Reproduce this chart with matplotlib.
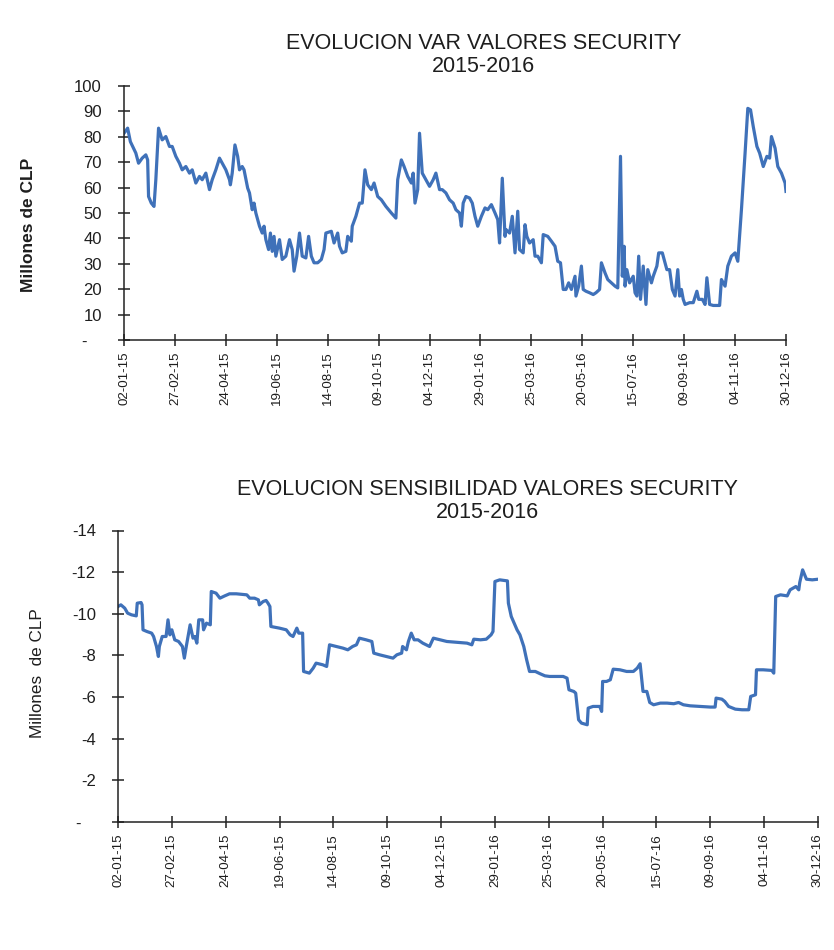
import matplotlib
matplotlib.use("Agg")
import matplotlib.pyplot as plt
import matplotlib.dates as mdates
import pandas as pd
import numpy as np

plt.rcParams['font.family'] = ['Liberation Sans', 'DejaVu Sans']

start = pd.Timestamp('2015-01-02')
end = pd.Timestamp('2016-12-30')

# ---- VaR series (days from 02-01-15, millones de CLP) ----
var_days = [0, 4, 7, 13, 16, 20, 24, 26, 27, 30, 33, 35, 38, 42, 46, 50, 53, 57, 61, 64, 68, 72, 75,
            79, 83, 86, 90, 94, 97, 101, 105, 108, 112, 116, 117, 119, 122, 125, 127, 130, 132, 136,
            138, 141, 143, 145, 149, 152, 154, 156, 159, 161, 163, 165, 167, 171, 174, 178, 182, 185,
            187, 190, 193, 196, 200, 203, 206, 209, 213, 217, 220, 222, 228, 231, 235, 237, 240, 244,
            246, 250, 251, 255, 259, 262, 265, 268, 272, 275, 279, 283, 288, 294, 299, 301, 305, 308,
            312, 316, 318, 320, 323, 325, 328, 332, 336, 340, 343, 347, 350, 354, 358, 362, 365, 369,
            371, 373, 376, 380, 383, 386, 389, 393, 397, 400, 404, 408, 411, 413, 416, 419, 420, 424,
            427, 430, 433, 435, 439, 441, 443, 446, 450, 452, 455, 459, 461, 466, 470, 474, 477, 480,
            483, 486, 489, 492, 496, 497, 500, 503, 505, 508, 512, 516, 519, 523, 525, 529, 532, 536,
            540, 543, 546, 548, 550, 551, 553, 556, 560, 562, 564, 566, 568, 571, 574, 576, 580, 582,
            586, 588, 592, 595, 597, 600, 603, 606, 609, 611, 613, 615, 617, 622, 626, 630, 632, 636,
            639, 641, 644, 648, 655, 657, 661, 664, 668, 672, 675, 679, 683, 686, 689, 692, 696, 699,
            703, 707, 710, 712, 716, 719, 723, 727, 728]
var_vals = [81.4, 83.4, 78.1, 73.6, 69.6, 71.6, 72.9, 70.9, 56.5, 53.9, 52.6, 63.1, 83.4, 78.8, 80.1,
            76.2, 76.2, 72.3, 69.6, 67.0, 68.3, 65.7, 67.0, 61.8, 64.4, 63.1, 65.7, 59.2, 63.1, 67.0,
            71.6, 69.6, 67.0, 63.1, 61.1, 65.7, 76.8, 72.3, 67.0, 68.3, 67.0, 59.8, 57.9, 51.3, 53.9,
            50.0, 44.8, 42.1, 44.8, 39.5, 35.6, 42.1, 34.9, 40.8, 33.0, 39.5, 31.7, 33.0, 39.5, 35.6,
            27.1, 33.0, 42.1, 33.0, 32.3, 40.8, 33.0, 30.4, 30.4, 31.7, 35.6, 42.1, 42.8, 38.2, 42.1,
            36.9, 34.3, 34.9, 40.8, 38.9, 44.8, 48.7, 53.9, 53.9, 67.0, 61.1, 59.2, 61.8, 56.5, 55.2,
            52.6, 50.0, 48.0, 63.1, 70.9, 68.3, 64.4, 61.8, 65.7, 53.9, 59.2, 81.4, 65.7, 63.1, 60.5,
            63.1, 65.7, 59.2, 59.2, 57.9, 55.2, 53.9, 51.3, 50.0, 44.8, 53.9, 56.5, 55.9, 53.9, 48.7,
            44.8, 48.7, 52.0, 51.3, 53.3, 50.0, 47.4, 38.2, 63.7, 40.8, 43.5, 42.1, 48.7, 34.3, 50.7,
            35.6, 34.3, 45.4, 40.8, 38.2, 39.5, 33.0, 33.0, 30.4, 41.5, 40.8, 38.9, 36.9, 31.0, 30.4,
            19.9, 19.9, 22.5, 19.9, 25.1, 17.3, 21.2, 29.1, 19.9, 19.2, 18.6, 17.9, 18.6, 19.9, 30.4,
            26.4, 23.8, 22.5, 21.2, 20.5, 72.3, 25.1, 36.9, 21.2, 27.7, 22.5, 25.1, 18.6, 17.3, 33.0,
            16.0, 29.1, 14.0, 27.7, 22.5, 25.1, 29.1, 34.3, 34.3, 30.4, 27.7, 27.7, 19.9, 17.3, 27.7,
            17.3, 19.9, 16.0, 14.0, 14.7, 14.7, 19.2, 16.0, 16.0, 14.0, 24.5, 14.0, 13.6, 13.6, 23.8,
            21.2, 29.1, 33.0, 34.3, 31.0, 51.3, 73.6, 91.2, 90.6, 84.0, 76.2, 73.6, 68.3, 72.3, 71.6,
            80.1, 75.5, 68.3, 65.7, 61.8, 58.5]

# ---- Sensibilidad series (days from 02-01-15, millones de CLP) ----
sens_days = [0, 3, 7, 10, 14, 19, 20, 24, 25, 26, 30, 35, 37, 40, 42, 43, 46, 50, 52, 54, 56, 59, 63,
             67, 69, 71, 75, 78, 80, 82, 84, 88, 89, 92, 96, 97, 102, 106, 111, 116, 123, 134, 137,
             142, 146, 147, 151, 154, 156, 158, 159, 168, 175, 179, 182, 186, 188, 192, 193, 199, 203,
             206, 213, 217, 220, 227, 234, 239, 244, 248, 251, 258, 264, 266, 272, 279, 286, 290, 295,
             296, 300, 302, 305, 308, 312, 317, 324, 328, 335, 342, 356, 363, 368, 370, 377, 383, 388,
             390, 392, 397, 405, 406, 409, 415, 418, 422, 425, 428, 434, 439, 444, 449, 463, 467, 469,
             474, 476, 479, 482, 488, 489, 494, 501, 503, 504, 508, 512, 515, 522, 529, 536, 540, 543,
             546, 550, 553, 557, 564, 571, 578, 583, 588, 595, 605, 616, 621, 622, 628, 631, 635, 642,
             649, 656, 658, 663, 664, 671, 680, 682, 684, 689, 696, 699, 702, 705, 708, 709, 712, 716,
             722, 728]
sens_vals = [-10.35, -10.43, -10.27, -10.03, -9.95, -9.90, -10.51, -10.54, -10.43, -9.23, -9.15, -9.07,
             -8.91, -8.43, -7.95, -8.43, -8.91, -8.91, -9.71, -8.99, -9.23, -8.75, -8.67, -8.43, -7.87,
             -8.43, -9.47, -8.83, -8.91, -8.59, -9.71, -9.71, -9.23, -9.55, -9.47, -11.07, -10.99,
             -10.75, -10.86, -10.96, -10.96, -10.91, -10.75, -10.75, -10.67, -10.43, -10.59, -10.64,
             -10.51, -10.35, -9.39, -9.31, -9.23, -8.99, -8.91, -9.31, -9.07, -9.07, -7.23, -7.15,
             -7.39, -7.63, -7.55, -7.47, -8.51, -8.43, -8.35, -8.27, -8.43, -8.51, -8.83, -8.75, -8.67,
             -8.11, -8.03, -7.95, -7.87, -8.03, -8.11, -8.43, -8.27, -8.67, -9.07, -8.75, -8.75, -8.59,
             -8.43, -8.83, -8.75, -8.67, -8.62, -8.59, -8.51, -8.78, -8.75, -8.78, -8.99, -9.15,
             -11.55, -11.63, -11.58, -10.51, -9.87, -9.23, -8.99, -8.43, -7.79, -7.23, -7.23, -7.12,
             -7.02, -6.99, -6.99, -6.91, -6.35, -6.27, -6.19, -4.91, -4.75, -4.67, -5.47, -5.55, -5.55,
             -5.31, -6.75, -6.75, -6.83, -7.34, -7.31, -7.23, -7.23, -7.39, -7.60, -6.27, -6.27, -5.74,
             -5.63, -5.71, -5.71, -5.68, -5.74, -5.63, -5.58, -5.55, -5.52, -5.52, -5.95, -5.90, -5.79,
             -5.55, -5.42, -5.39, -5.39, -6.03, -6.11, -7.31, -7.31, -7.28, -7.15, -10.83, -10.91,
             -10.86, -11.15, -11.23, -11.31, -11.15, -11.50, -12.11, -11.66, -11.63, -11.66]

var_yticks = [0, 10, 20, 30, 40, 50, 60, 70, 80, 90, 100]
sens_yticks = [0, -2, -4, -6, -8, -10, -12, -14]
tick_step_days = 56

top_title = "EVOLUCION VAR VALORES SECURITY\n2015-2016"
bot_title = "EVOLUCION SENSIBILIDAD VALORES SECURITY\n2015-2016"

line_color = '#3F71B9'
axis_color = '#222222'
text_color = '#1E1E1E'

var_dates = start + pd.to_timedelta(var_days, unit='D')
sens_dates = start + pd.to_timedelta(sens_days, unit='D')
xticks = pd.date_range(start, end, freq=f'{tick_step_days}D')

fig = plt.figure(figsize=(8.34, 9.5), dpi=100)
W, H = 834, 950
ax1 = fig.add_axes([124 / W, 1 - 340 / H, (786 - 124) / W, (340 - 86) / H])
ax2 = fig.add_axes([118 / W, 1 - 822 / H, (818 - 118) / W, (822 - 530.5) / H])


def ylab(v):
    return '-   ' if v == 0 else f'{v:g}'


for ax, d, v, yt in [(ax1, var_dates, var_vals, var_yticks), (ax2, sens_dates, sens_vals, sens_yticks)]:
    ax.plot(d, v, color=line_color, lw=2.3, solid_joinstyle='round')
    ax.set_xlim(start, end)
    ax.set_xticks(xticks)
    ax.xaxis.set_major_formatter(mdates.DateFormatter('%d-%m-%y'))
    ax.set_yticks(yt)
    ax.set_yticklabels([ylab(t) for t in yt])
    for s in ['top', 'right']:
        ax.spines[s].set_visible(False)
    for s in ['left', 'bottom']:
        ax.spines[s].set_color(axis_color)
        ax.spines[s].set_linewidth(1.1)
    ax.tick_params(axis='both', direction='inout', length=8, width=1.1, color=axis_color,
                   labelcolor=text_color)
    ax.tick_params(axis='y', pad=12, labelsize=12)
    ax.tick_params(axis='x', pad=4, labelrotation=90, labelsize=9.6)

ax1.set_ylim(0, 100)
ax2.set_ylim(0, -14)

fig.text(0.580, 1 - 55 / H, top_title, ha='center', va='center', fontsize=15.5, linespacing=1.1,
         color=text_color)
fig.text(0.585, 1 - 501 / H, bot_title, ha='center', va='center', fontsize=15.5, linespacing=1.1,
         color=text_color)
fig.text(29 / W, 1 - 225 / H, 'Millones de CLP', rotation=90, ha='center', va='center',
         fontsize=12.5, fontweight='bold', color=text_color)
fig.text(38 / W, 1 - 673 / H, 'Millones  de CLP', rotation=90, ha='center', va='center',
         fontsize=12.3, color=text_color)

fig.savefig('out.png', dpi=100, facecolor='white')
